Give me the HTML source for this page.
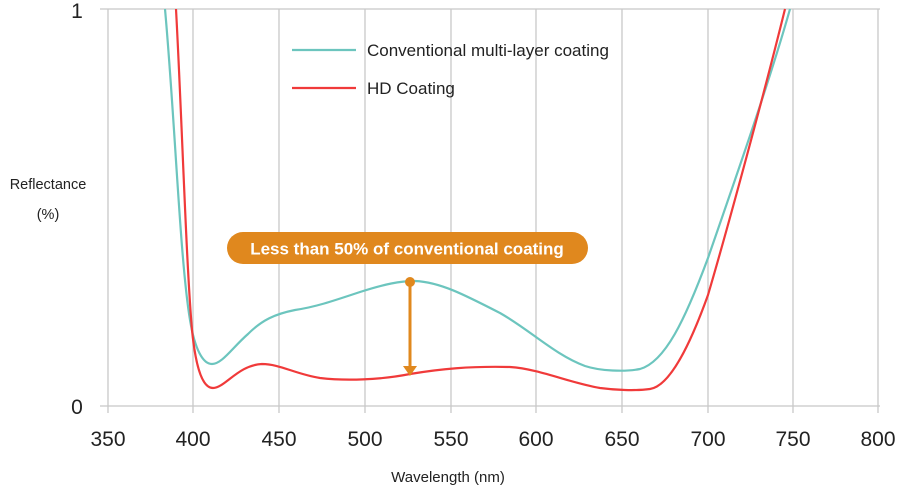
<!DOCTYPE html>
<html><head><meta charset="utf-8"><style>
html,body{margin:0;padding:0;background:#fff;}
svg{display:block;font-family:"Liberation Sans",sans-serif;}
</style></head><body>
<svg width="900" height="486" viewBox="0 0 900 486">
<g stroke="#c8c8c8" stroke-width="1.3">
<line x1="100" y1="9" x2="880" y2="9"/>
<line x1="100" y1="406" x2="880" y2="406"/>
<line x1="108" y1="9" x2="108" y2="413"/>
<line x1="193" y1="9" x2="193" y2="413"/>
<line x1="279" y1="9" x2="279" y2="413"/>
<line x1="365" y1="9" x2="365" y2="413"/>
<line x1="451" y1="9" x2="451" y2="413"/>
<line x1="536" y1="9" x2="536" y2="413"/>
<line x1="622" y1="9" x2="622" y2="413"/>
<line x1="708" y1="9" x2="708" y2="413"/>
<line x1="793" y1="9" x2="793" y2="413"/>
<line x1="878" y1="9" x2="878" y2="413"/>
</g>
<g font-size="21" fill="#222" text-anchor="middle">
<text x="108" y="446">350</text><text x="193" y="446">400</text><text x="279" y="446">450</text>
<text x="365" y="446">500</text><text x="451" y="446">550</text><text x="536" y="446">600</text>
<text x="622" y="446">650</text><text x="708" y="446">700</text><text x="793" y="446">750</text>
<text x="878" y="446">800</text>
<text x="77" y="414">0</text><text x="77" y="18">1</text>
</g>
<text x="448" y="482" font-size="15" fill="#222" text-anchor="middle">Wavelength (nm)</text>
<text x="48" y="189" font-size="14.5" fill="#222" text-anchor="middle">Reflectance</text>
<text x="48" y="219" font-size="14.5" fill="#222" text-anchor="middle">(%)</text>
<path d="M165,9 C175,120 180,260 190,320 C195,350 203,364 212,364 C222,364 232,348 248,334 C262,320 275,314 295,310 C315,307 330,302 360,292 C385,284 400,281 415,281 C440,282 465,295 500,313 C530,330 555,355 585,366 C600,371 625,372 640,369 C665,362 685,320 708,258 C735,180 770,80 790,9" fill="none" stroke="#6cc5be" stroke-width="2.2"/>
<path d="M176,9 C182,120 186,260 192,330 C196,370 203,388 213,388 C225,388 238,365 262,364 C280,364 295,374 320,378 C345,381 380,380 410,374 C440,369 470,366 510,367 C540,369 570,383 600,388 C615,390 635,391 650,389 C670,386 690,345 708,295 C730,220 765,90 785,9" fill="none" stroke="#f03a3a" stroke-width="2.2"/>
<rect x="227" y="232" width="361" height="32" rx="16" fill="#e0881e"/>
<text x="407" y="254.5" font-size="17" font-weight="bold" fill="#fff" text-anchor="middle">Less than 50% of conventional coating</text>
<line x1="410" y1="282" x2="410" y2="366" stroke="#e0881e" stroke-width="3"/>
<circle cx="410" cy="282" r="5" fill="#e0881e"/>
<polygon points="403,366 417,366 410,376" fill="#e0881e"/>
<line x1="292" y1="50" x2="356" y2="50" stroke="#6cc5be" stroke-width="2.2"/>
<line x1="292" y1="88" x2="356" y2="88" stroke="#f03a3a" stroke-width="2.2"/>
<text x="367" y="56" font-size="17" fill="#222">Conventional multi-layer coating</text>
<text x="367" y="94" font-size="17" fill="#222">HD Coating</text>
</svg>
</body></html>
